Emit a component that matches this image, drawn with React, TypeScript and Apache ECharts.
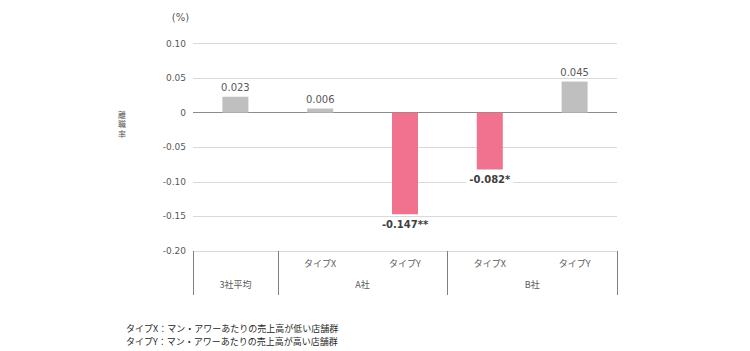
import React, { useEffect, useRef } from "react";
import * as echarts from "echarts";

const typeLabels = ["", "タイプX", "タイプY", "タイプX", "タイプY"];
const groupLabels = ["3社平均", "A社", "B社"];
const groupCenters = [0.5, 2, 4];
const groupBounds = [0, 1, 3, 5];
const values = [0.023, 0.006, -0.147, -0.082, 0.045];
const valueLabels = ["0.023", "0.006", "-0.147**", "-0.082*", "0.045"];
const yTicks = { min: -0.2, max: 0.1, interval: 0.05 };
const yTitleChars = ["離", "職", "率"];
const notes = [
  "タイプX：マン・アワーあたりの売上高が低い店舗群",
  "タイプY：マン・アワーあたりの売上高が高い店舗群",
];

const NUM_FONT = "'DejaVu Sans', Verdana, sans-serif";
const JP_FONT = "'Noto Sans CJK JP', sans-serif";

export default function App() {
  const ref = useRef<HTMLDivElement>(null);
  useEffect(() => {
    const chart = echarts.init(ref.current!, null, { renderer: "svg" });
    const option: any = {
      animation: false,
      backgroundColor: "#ffffff",
      grid: { left: 193, right: 133, top: 43.5, bottom: 100, containLabel: false },
      xAxis: [
        {
          type: "category",
          data: typeLabels,
          position: "bottom",
          axisLine: { show: false, onZero: false },
          axisTick: { show: false },
          axisLabel: { margin: 8, fontSize: 9, color: "#595959", fontFamily: JP_FONT },
        },
        {
          type: "value",
          min: 0,
          max: 5,
          position: "bottom",
          axisLine: { show: false, onZero: false },
          splitLine: { show: false },
          axisTick: {
            show: true,
            customValues: groupBounds,
            length: 44,
            lineStyle: { color: "#7f7f7f", width: 1 },
          },
          axisLabel: {
            customValues: groupCenters,
            margin: 29,
            fontSize: 9,
            color: "#595959",
            fontFamily: JP_FONT,
            formatter: (v: number) => {
              const i = groupCenters.indexOf(v);
              return i >= 0 ? groupLabels[i] : "";
            },
          },
        },
      ],
      yAxis: {
        type: "value",
        min: yTicks.min,
        max: yTicks.max,
        interval: yTicks.interval,
        name: "(%)",
        nameGap: 21,
        nameTextStyle: { fontSize: 10, color: "#595959", fontFamily: NUM_FONT, align: "center", padding: [0, 0, 0, -25] },
        axisLine: { show: false },
        axisTick: { show: false },
        axisLabel: {
          margin: 7,
          fontSize: 9,
          color: "#595959",
          fontFamily: NUM_FONT,
          formatter: (v: number) => (Math.abs(v) < 1e-9 ? "0" : v.toFixed(2)),
        },
        splitLine: { lineStyle: { color: "#d9d9d9", width: 1 } },
      },
      series: [
        {
          type: "bar",
          xAxisIndex: 0,
          barWidth: 26,
          data: values.map((v, i) => ({
            value: v,
            itemStyle: { color: v < 0 ? "#f0728e" : "#bfbfbf" },
            label: v < 0
              ? {
                  show: true,
                  position: "bottom",
                  distance: 4,
                  formatter: valueLabels[i],
                  fontSize: 10,
                  fontWeight: "bold",
                  color: "#404040",
                  fontFamily: NUM_FONT,
                  backgroundColor: "#ffffff",
                  padding: [1, 3],
                }
              : {
                  show: true,
                  position: "top",
                  distance: 4,
                  formatter: valueLabels[i],
                  fontSize: 10,
                  color: "#595959",
                  fontFamily: NUM_FONT,
                },
          })),
          markLine: {
            silent: true,
            symbol: "none",
            label: { show: false },
            lineStyle: { color: "#8c8c8c", width: 1, type: "solid" },
            data: [{ yAxis: 0 }],
            z: 1,
          },
        },
      ],
      graphic: [
        ...yTitleChars.map((c, i) => ({
          type: "text",
          x: 122,
          y: 114 + i * 9.5,
          style: {
            text: c,
            fontSize: 8,
            lineHeight: 9,
            fill: "#595959",
            fontFamily: JP_FONT,
            align: "center",
            verticalAlign: "middle",
          },
        })),
        ...notes.map((t, i) => ({
          type: "text",
          x: 126,
          y: 328.5 + i * 12.5,
          style: {
            text: t,
            fontSize: 9,
            fill: "#262626",
            fontFamily: JP_FONT,
            verticalAlign: "middle",
          },
        })),
      ],
    };
    chart.setOption(option);
    return () => chart.dispose();
  }, []);
  return (
    <div
      ref={ref}
      style={{ position: "fixed", left: 0, top: 0, width: 750, height: 351, background: "#fff" }}
    />
  );
}
